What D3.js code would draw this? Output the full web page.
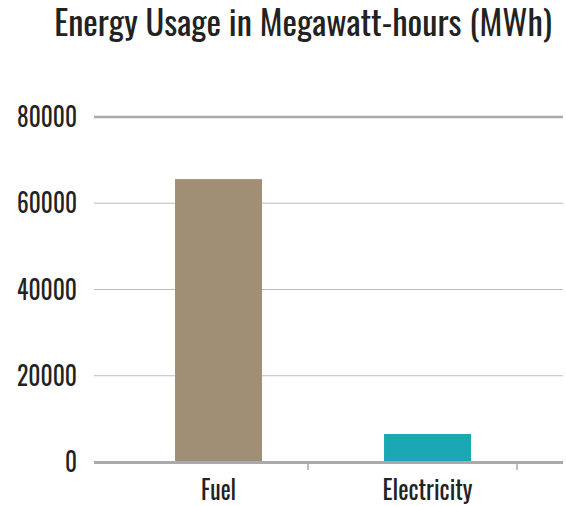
<!DOCTYPE html>
<html><head><meta charset="utf-8">
<script src="https://cdn.jsdelivr.net/npm/d3@7"></script>
<style>body{margin:0;background:#fff}</style>
</head><body>
<script>
const categories = ["Fuel", "Electricity"];
const values = [65600, 6500];
const yTicks = [0, 20000, 40000, 60000, 80000];
const colors = ["#a08f75", "#1ba7b3"];
const title = "Energy Usage in Megawatt-hours (MWh)";

const W = 566, H = 506;
const FONT = "Oswald, 'Liberation Sans Narrow', 'DejaVu Sans Condensed', 'Roboto Condensed', sans-serif";
const svg = d3.select("body").append("svg").attr("width", W).attr("height", H);

const y = d3.scaleLinear().domain([0, 80000]).range([462, 117]);
const x = d3.scaleBand().domain(categories).range([114, 532]).paddingInner(0.584).paddingOuter(0.292);
const xt = d3.scaleBand().domain(categories).range([99, 517]);
const gridL = 94, gridR = 563;

// fit text to target width (and vertical stretch ky) via scale transform
function fit(sel, cx, cy, width, ky) {
  sel.each(function() {
    const w = this.getComputedTextLength();
    const k = width / w;
    d3.select(this).attr("x", 0).attr("y", 0)
      .attr("transform", `translate(${cx},${cy}) scale(${k},${ky || 1})`);
  });
}

// title
const tt = svg.append("text").attr("text-anchor", "middle")
  .attr("font-family", FONT).attr("font-size", 26).attr("fill", "#222").text(title);
fit(tt, 303, 36, 498, 34 / 26);

// grid lines
svg.selectAll("line.grid").data(yTicks.filter(d => d > 0)).enter().append("line")
  .attr("x1", gridL).attr("x2", gridR).attr("y1", d => y(d)).attr("y2", d => y(d))
  .attr("stroke", d => d === 80000 ? "#aaaaae" : "#bdbdc0")
  .attr("stroke-width", d => d === 80000 ? 2.5 : 1.2);

// y labels
svg.selectAll("text.yl").data(yTicks).enter().append("text")
  .attr("text-anchor", "end")
  .attr("font-family", FONT).attr("font-size", 27).attr("fill", "#222")
  .text(d => d)
  .each(function(d){ fit(d3.select(this), 77, y(d) + 10, String(d).length * 12); });

// bars
svg.selectAll("rect.bar").data(values).enter().append("rect")
  .attr("x", (d, i) => x(categories[i])).attr("width", x.bandwidth())
  .attr("y", d => y(d)).attr("height", d => y(0) - y(d))
  .attr("fill", (d, i) => colors[i]);

// baseline
svg.append("line").attr("x1", gridL).attr("x2", gridR).attr("y1", y(0) + 0.5).attr("y2", y(0) + 0.5)
  .attr("stroke", "#aaaaae").attr("stroke-width", 3);

// ticks
svg.selectAll("line.tick").data(categories).enter().append("line")
  .attr("x1", d => xt(d) + xt.bandwidth()).attr("x2", d => xt(d) + xt.bandwidth())
  .attr("y1", y(0) + 2).attr("y2", y(0) + 8).attr("stroke", "#aaaaae").attr("stroke-width", 1.5);

// x labels
const xw = {"Fuel": 35, "Electricity": 90};
svg.selectAll("text.xl").data(categories).enter().append("text")
  .attr("text-anchor", "middle")
  .attr("font-family", FONT).attr("font-size", 27).attr("fill", "#222")
  .text(d => d)
  .each(function(d){ fit(d3.select(this), x(d) + x.bandwidth() / 2, 500, xw[d]); });
</script>
</body></html>
